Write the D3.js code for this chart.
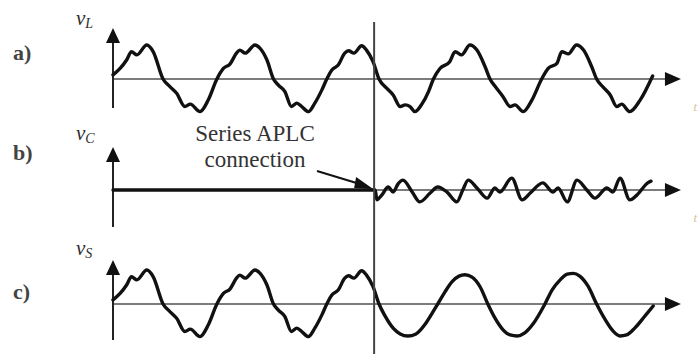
<!DOCTYPE html>
<html>
<head>
<meta charset="utf-8">
<script src="https://cdn.jsdelivr.net/npm/d3@7"></script>
<style>
  body { margin: 0; background: #fff; }
  svg { display: block; }
  .lbl { font-family: "Liberation Serif", "Times New Roman", Times, serif; fill: #2b2b2b; }
</style>
</head>
<body>
<div class="chart"></div>
<script>
// waveforms: [time in ms, value in p.u.]
const panelLabels = ["a)", "b)", "c)"];
const signalNames = [["v", "L"], ["v", "C"], ["v", "S"]];
const noteLines = ["Series APLC", "connection"];
const timeLabel = "t";
const tConnect = 48;

const vLoad = [
  [0, 0.12], [1.3, 0.31], [2.5, 0.56], [3.4, 0.8], [4.4, 0.71], [6.2, 1.0], [7.4, 0.8],
  [9.2, 0], [10.5, -0.23], [11.7, -0.42], [13.2, -0.81], [14.2, -0.74], [16.0, -0.96],
  [17.5, -0.62], [19.1, 0], [20.3, 0.31], [21.5, 0.44], [22.7, 0.76], [23.3, 0.85],
  [24.3, 0.76], [26.1, 1.0], [27.0, 0.91], [28.3, 0.56], [29.5, 0], [30.4, -0.18],
  [31.6, -0.37], [32.8, -0.81], [33.8, -0.71], [34.7, -0.81], [35.9, -0.96], [37.1, -0.71],
  [38.4, -0.32], [39.3, 0], [40.2, 0.26], [41.4, 0.41], [42.6, 0.76], [43.3, 0.83],
  [44.3, 0.76], [45.7, 0.98], [46.6, 0.85], [47.8, 0.51], [48.9, 0], [50.3, -0.27],
  [51.5, -0.47], [52.8, -0.81], [53.7, -0.76], [54.6, -0.81], [55.5, -0.96], [56.7, -0.76],
  [58.0, -0.37], [58.9, 0], [60.1, 0.31], [61.9, 0.51], [62.9, 0.8], [64.1, 0.71],
  [65.6, 1.0], [66.9, 0.85], [68.4, 0.36], [69.3, 0], [70.5, -0.27], [71.7, -0.52],
  [73.0, -0.81], [73.9, -0.76], [75.4, -0.96], [77.0, -0.62], [78.8, 0], [80.0, 0.31],
  [81.6, 0.46], [82.5, 0.8], [83.7, 0.74], [85.2, 1.0], [86.5, 0.85], [88.0, 0.36],
  [88.9, 0], [90.1, -0.24], [91.4, -0.47], [92.6, -0.81], [93.5, -0.74], [95.0, -0.96],
  [96.9, -0.62], [99.2, 0.09]
];

const vComp = [
  [0, 0], [48.2, 0], [48.5, -0.29], [49.4, -0.15], [50.6, 0.09], [51.5, -0.06], [52.4, 0.18],
  [53.3, 0.29], [55.0, -0.06], [56.4, -0.35], [58.3, -0.09], [59.7, 0.09], [61.4, -0.06],
  [63.2, -0.35], [64.3, 0], [65.3, 0.29], [66.9, 0.06], [68.8, -0.24], [70.2, 0.06],
  [71.1, -0.06], [73.3, 0.35], [75.2, -0.29], [76.7, -0.09], [79.0, 0.21], [80.9, -0.06],
  [81.8, 0.06], [83.5, -0.35], [85.3, 0.29], [87.1, 0], [88.6, -0.24], [90.8, 0.06],
  [91.9, -0.06], [93.2, 0.35], [95.0, -0.29], [96.3, -0.15], [98.3, 0.21], [98.9, 0.26]
];

// source voltage after the compensator is connected
const vSourceAfter = [
  [50.0, -0.35], [51.5, -0.71], [52.8, -0.88], [54.2, -0.94], [55.7, -0.88], [57.4, -0.59],
  [58.6, -0.29], [59.7, 0], [61.0, 0.35], [62.3, 0.65], [63.6, 0.82], [64.7, 0.86],
  [66.0, 0.79], [67.5, 0.5], [68.9, 0], [70.2, -0.41], [71.7, -0.76], [73.0, -0.91],
  [74.3, -0.94], [75.7, -0.85], [77.2, -0.59], [79.4, 0], [80.7, 0.41], [82.2, 0.71],
  [83.5, 0.88], [84.6, 0.9], [85.8, 0.82], [87.3, 0.53], [88.9, 0], [90.4, -0.44],
  [91.9, -0.79], [93.2, -0.94], [94.4, -0.91], [95.9, -0.71], [97.8, -0.35], [99.3, -0.06]
];
const vSource = vLoad.filter((d) => d[0] <= 48.9).concat(vSourceAfter);

const series = [vLoad, vComp, vSource];

const width = 698, height = 354;
const serif = '"Liberation Serif", "Times New Roman", Times, serif';

// layout of the three stacked plots
const panels = [
  { base: 79, tip: 28, bottom: 108, lblY: 60, nameY: 25 },
  { base: 190, tip: 147, bottom: 227, lblY: 160, nameY: 140 },
  { base: 304, tip: 260, bottom: 340, lblY: 299, nameY: 255 }
];

const svg = d3
  .select(".chart")
  .append("svg")
  .attr("width", width)
  .attr("height", height);

const x = d3.scaleLinear().domain([0, 100]).range([113, 657]);
const xArrow = 104.4;

panels.forEach((p, i) => {
  const y = d3.scaleLinear().domain([-1, 1]).range([p.base + 34, p.base - 34]);
  const g = svg.append("g").attr("class", "panel");

  // time axis
  g.append("line")
    .attr("x1", x(0))
    .attr("x2", x(xArrow) - 12)
    .attr("y1", y(0))
    .attr("y2", y(0))
    .attr("stroke", "#7c7c7c")
    .attr("stroke-width", 2);
  g.append("path")
    .attr("d", `M${x(xArrow)},${y(0)} L${x(xArrow) - 16},${y(0) - 7} L${x(xArrow) - 16},${y(0) + 7} Z`)
    .attr("fill", "#111");

  // value axis
  g.append("line")
    .attr("x1", x(0))
    .attr("x2", x(0))
    .attr("y1", p.tip + 10)
    .attr("y2", p.bottom)
    .attr("stroke", "#222")
    .attr("stroke-width", 2);
  g.append("path")
    .attr("d", `M${x(0)},${p.tip} L${x(0) - 7},${p.tip + 15} L${x(0) + 7},${p.tip + 15} Z`)
    .attr("fill", "#111");

  // waveform
  const line = d3
    .line()
    .x((d) => x(d[0]))
    .y((d) => y(d[1]))
    .curve(d3.curveMonotoneX);
  g.append("path")
    .datum(series[i])
    .attr("d", line)
    .attr("fill", "none")
    .attr("stroke", "#111")
    .attr("stroke-width", 3.4)
    .attr("stroke-linejoin", "round")
    .attr("stroke-linecap", "round");

  g.append("text")
    .attr("class", "lbl")
    .attr("x", 13)
    .attr("y", p.lblY)
    .style("font-family", serif)
    .style("font-size", "22px")
    .style("font-weight", "bold")
    .style("fill", "#444")
    .text(panelLabels[i]);

  const name = g
    .append("text")
    .attr("class", "lbl")
    .attr("x", 76)
    .attr("y", p.nameY)
    .style("font-family", serif)
    .style("font-style", "italic")
    .style("font-size", "21px");
  name.append("tspan").text(signalNames[i][0]);
  name.append("tspan").attr("dy", 3).style("font-size", "14px").text(signalNames[i][1]);

  // faint time label squeezed against the right edge
  if (i < 2) {
    g.append("text")
      .attr("class", "lbl")
      .attr("x", 697)
      .attr("y", p.base + 32)
      .attr("text-anchor", "end")
      .style("font-family", serif)
      .style("font-style", "italic")
      .style("font-size", "13px")
      .style("fill", "#dcc0a0")
      .text(timeLabel);
  }
});

// connection instant
svg
  .append("line")
  .attr("x1", x(tConnect))
  .attr("x2", x(tConnect))
  .attr("y1", 22)
  .attr("y2", 354)
  .attr("stroke", "#444")
  .attr("stroke-width", 2);

svg
  .selectAll(".note")
  .data(noteLines)
  .enter()
  .append("text")
  .attr("class", "lbl note")
  .attr("x", 255)
  .attr("y", (d, i) => 141 + i * 26)
  .attr("text-anchor", "middle")
  .style("font-family", serif)
  .style("font-size", "23px")
  .style("fill", "#333")
  .text((d) => d);

// arrow pointing at the connection
const tipX = x(tConnect) - 1, tipY = 189;
svg
  .append("line")
  .attr("x1", 317)
  .attr("y1", 171)
  .attr("x2", tipX - 10)
  .attr("y2", tipY - 4)
  .attr("stroke", "#111")
  .attr("stroke-width", 2);
svg
  .append("path")
  .attr("d", `M${tipX},${tipY} L${tipX - 17},${tipY - 12} L${tipX - 19},${tipY - 1} Z`)
  .attr("fill", "#111");
</script>
</body>
</html>
